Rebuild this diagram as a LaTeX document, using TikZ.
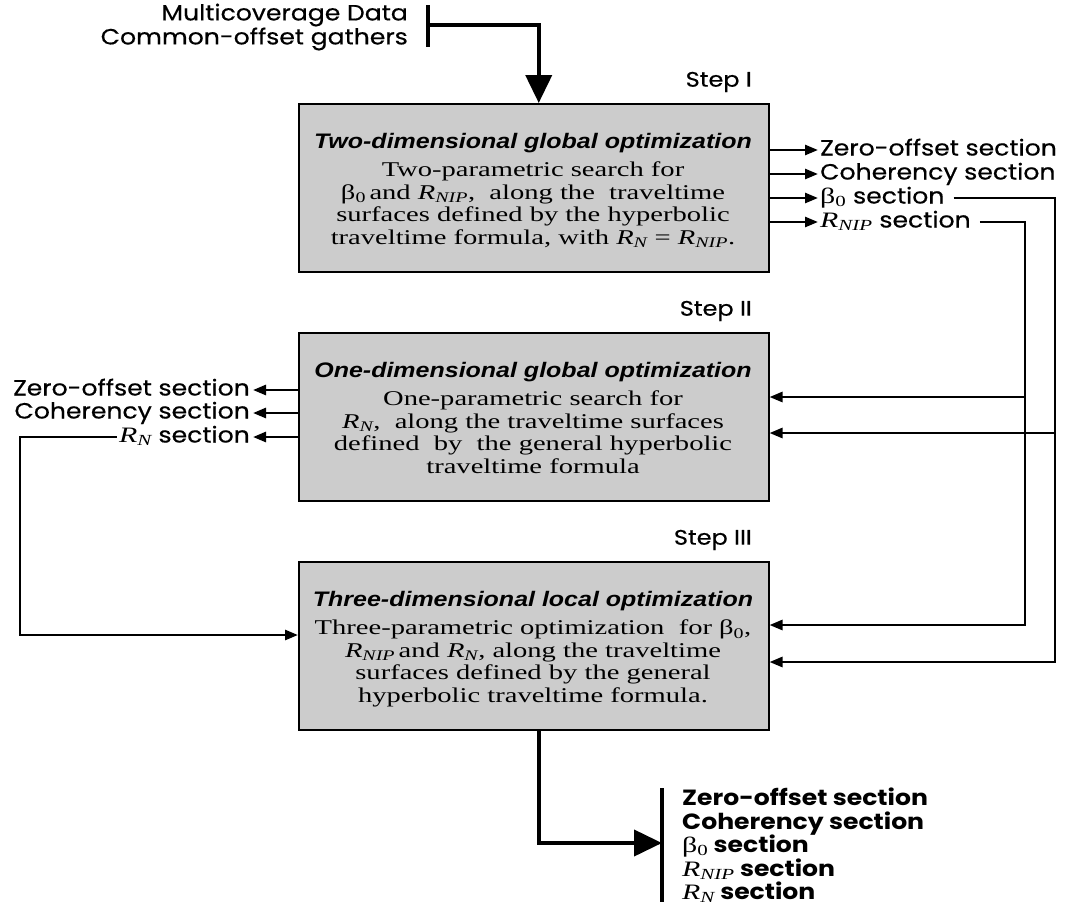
\documentclass[tikz,border=0pt]{standalone}
\usepackage{fontspec}
\setmainfont[FakeStretch=1.36]{Liberation Serif}
\newfontfamily\gothicfont[FakeStretch=1.14, UprightFeatures={FakeBold=0.5}]{Poppins}
\newfontfamily\headfont[FakeStretch=1.19]{Liberation Sans}
\usetikzlibrary{arrows.meta,positioning}
\definecolor{boxgray}{HTML}{CCCCCC}
\newcommand{\Rsub}[1]{{\rmfamily\mdseries\itshape R\textsubscript{#1}}}
\newcommand{\bzero}{{\rmfamily\mdseries\upshape β\textsubscript{0}}}
\tikzset{
  stagebox/.style={draw=black, line width=1.5pt, fill=boxgray, minimum width=470pt, minimum height=168pt, anchor=north west, inner sep=0pt},
  boxtitle/.style={anchor=base, inner sep=0pt, font=\headfont\bfseries\itshape\fontsize{21}{24}\selectfont},
  boxbody/.style={align=center, anchor=north, inner sep=0pt, font=\fontsize{21}{22.5}\selectfont},
  sidelabel/.style={font=\gothicfont\fontsize{22}{24}\selectfont, text height=15pt, text depth=4pt, inner sep=0pt},
  steplabel/.style={font=\gothicfont\fontsize{21}{24}\selectfont, anchor=east, inner sep=0pt},
  conn/.style={black, line width=2.6pt, -{Triangle[length=13pt,width=10pt]}},
  mainflow/.style={black, line width=4pt, -{Triangle[length=28pt,width=26pt]}},
  barline/.style={black, line width=4.5pt},
}
\begin{document}
\begin{tikzpicture}[x=1pt,y=-1pt]
  \useasboundingbox (0,0) rectangle (1069,906);

  % input data
  \node[font=\gothicfont\fontsize{22}{24}\selectfont, align=right, anchor=east, inner sep=0pt] (indata) at (408,27) {Multicoverage Data\\Common-offset gathers};
  \coordinate (inbartop) at (428,5);
  \coordinate (inbarbot) at (428,47);
  \coordinate (injoin) at (428,25);
  \draw[barline] (inbartop) -- (inbarbot);

  % the three stages
  \node[stagebox] (box1) at (298,103) {};
  \node[stagebox] (box2) at (298,332) {};
  \node[stagebox] (box3) at (298,561) {};

  \node[steplabel] (step1) at (752,82) {Step I};
  \node[steplabel] (step2) at (752,311) {Step II};
  \node[steplabel] (step3) at (752,540) {Step III};

  \node[boxtitle] (title1) at (533,148) {Two-dimensional global optimization};
  \node[boxbody] (body1) at (533,162) {Two-parametric search for\\
    \bzero\,and \Rsub{NIP}, \ along the \ traveltime\\
    surfaces defined by the hyperbolic\\
    traveltime formula, with \Rsub{N} = \Rsub{NIP}.};

  \node[boxtitle] (title2) at (533,377) {One-dimensional global optimization};
  \node[boxbody] (body2) at (533,391) {One-parametric search for\\
    \Rsub{N}, \ along the traveltime surfaces\\
    defined \ by \ the general hyperbolic\\
    traveltime formula};

  \node[boxtitle] (title3) at (533,606) {Three-dimensional local optimization};
  \node[boxbody] (body3) at (533,620) {Three-parametric optimization \ for \bzero,\\
    \Rsub{NIP}\,and \Rsub{N}, along the traveltime\\
    surfaces defined by the general\\
    hyperbolic traveltime formula.};

  \draw[mainflow] (injoin) -| ([xshift=5pt]box1.north);

  % outputs of step I
  \node[sidelabel, anchor=west] (zero1) at (820,150) {Zero-offset section};
  \node[sidelabel, anchor=west] (coher1) at (820,174) {Coherency section};
  \node[sidelabel, anchor=west] (beta1) at (820,198) {\bzero{} section};
  \node[sidelabel, anchor=west] (rnip1) at (820,222) {\Rsub{NIP} section};
  \foreach \n in {zero1,coher1,beta1,rnip1}
    \draw[conn] (box1.east |- \n.west) -- ([xshift=-2pt]\n.west);

  \coordinate (riseb) at (1055,0);
  \coordinate (riser) at (1025,0);
  \coordinate (rowa) at (0,397);
  \coordinate (rowb) at (0,433);
  \coordinate (rowc) at (0,625);
  \coordinate (rowd) at (0,662);
  \coordinate (rowe) at (0,635);
  \coordinate (loopx) at (20,0);

  \draw[conn] ([xshift=9pt]rnip1.east) -| (riser |- rowc) -- (box3.east |- rowc);
  \draw[conn] (riser |- rowa) -- (box2.east |- rowa);
  \draw[conn] ([xshift=9pt]beta1.east) -| (riseb |- rowd) -- (box3.east |- rowd);
  \draw[conn] (riseb |- rowb) -- (box2.east |- rowb);

  % outputs of step II
  \node[sidelabel, anchor=east] (zero2) at (250,390) {Zero-offset section};
  \node[sidelabel, anchor=east] (coher2) at (250,413) {Coherency section};
  \node[sidelabel, anchor=east] (rn2) at (250,437) {\Rsub{N} section};
  \foreach \n in {zero2,coher2,rn2}
    \draw[conn] (box2.west |- \n.east) -- ([xshift=3pt]\n.east);
  \draw[conn] ([xshift=-2pt]rn2.west) -| (loopx |- rowe) -- (box3.west |- rowe);

  % final results
  \coordinate (outbartop) at (662,788);
  \coordinate (outbarbot) at (662,902);
  \coordinate (outjoin) at (662,843);
  \draw[barline] (outbartop) -- (outbarbot);
  \draw[mainflow] ([xshift=5pt]box3.south) |- (outjoin);
  \node[font=\gothicfont\bfseries\fontsize{22}{23.5}\selectfont, align=left, anchor=north west, inner sep=0pt] (results) at (682,788) {Zero-offset section\\
    Coherency section\\
    \bzero{} section\\
    \Rsub{NIP} section\\
    \Rsub{N} section};
\end{tikzpicture}
\end{document}
